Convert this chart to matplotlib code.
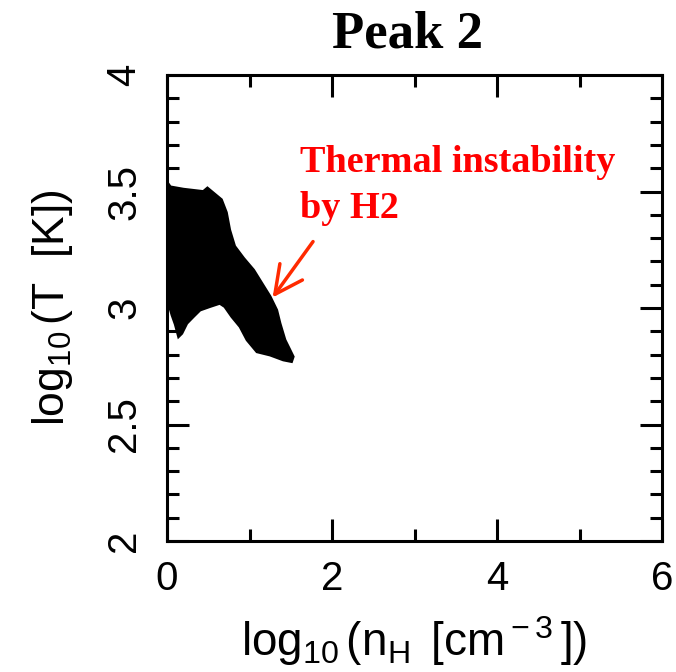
import matplotlib
matplotlib.use("Agg")
import matplotlib.pyplot as plt
from matplotlib.ticker import MultipleLocator

# ---- data (boundary of the dense point cloud) ----
cloud_upper_x = [0.00, 0.04, 0.20, 0.44, 0.49, 0.66, 0.72, 0.76, 0.82, 0.93, 1.05,
                 1.15, 1.25, 1.33, 1.37, 1.43, 1.49, 1.53]
cloud_upper_y = [3.54, 3.52, 3.51, 3.50, 3.515, 3.465, 3.41, 3.335, 3.265, 3.213, 3.163,
                 3.106, 3.049, 2.991, 2.934, 2.863, 2.820, 2.791]
cloud_lower_x = [1.51, 1.41, 1.25, 1.09, 0.97, 0.885, 0.785, 0.70, 0.64, 0.52,
                 0.40, 0.32, 0.24, 0.18, 0.14, 0.10, 0.06, 0.02, 0.00]
cloud_lower_y = [2.770, 2.777, 2.798, 2.812, 2.863, 2.920, 2.963, 3.006, 3.020, 3.006,
                 2.991, 2.963, 2.934, 2.891, 2.877, 2.93, 2.97, 3.02, 3.04]

x_ticks = [0, 2, 4, 6]
y_ticks = [2, 2.5, 3, 3.5, 4]
x_tick_labels = ["0", "2", "4", "6"]
y_tick_labels = ["2", "2.5", "3", "3.5", "4"]

title = "Peak 2"
note_lines = ["Thermal instability", "by H2"]
note_x = 1.61
note_baselines = [3.584, 3.386]
arrow_tail = (1.77, 3.285)
arrow_tip = (1.28, 3.045)

plt.rcParams['font.family'] = ['Liberation Sans', 'DejaVu Sans']
plt.rcParams['mathtext.fontset'] = 'custom'
plt.rcParams['mathtext.rm'] = 'Liberation Sans'
plt.rcParams['mathtext.it'] = 'Liberation Sans:italic'

fig = plt.figure(figsize=(6.76, 6.72), dpi=100)
ax = fig.add_axes([167/676, 1-541/672, 495/676, 466/672])

poly_x = cloud_upper_x + cloud_lower_x
poly_y = cloud_upper_y + cloud_lower_y
ax.fill(poly_x, poly_y, color='black', lw=2, ec='black', zorder=2)

ax.set_xlim(0, 6)
ax.set_ylim(2, 4)
ax.set_xticks(x_ticks)
ax.set_xticklabels(x_tick_labels)
ax.set_yticks(y_ticks)
ax.set_yticklabels(y_tick_labels, rotation=90, va='center')
ax.xaxis.set_minor_locator(MultipleLocator(1))
ax.yaxis.set_minor_locator(MultipleLocator(0.1))
ax.tick_params(which='both', direction='in', top=True, right=True, width=2.2,
               color='black')
ax.tick_params(which='major', length=16, labelsize=29)
ax.tick_params(which='minor', length=8.5)
ax.tick_params(axis='x', which='major', pad=14)
ax.tick_params(axis='y', which='major', pad=17)
for s in ax.spines.values():
    s.set_linewidth(2.2)

ax.set_xlabel(r"log$_{\rm 10}$$\,$(n$_{\rm H}$ $\,$[cm$^{\rm -3}$$\,$])",
              fontsize=33, labelpad=11)
ax.set_ylabel(r"log$_{\rm 10}$$\,$(T  [K])", fontsize=32, labelpad=22)

fig.text(408/676, 1-47/672, title, fontsize=38, fontweight='bold',
         family='Liberation Serif', ha='center', va='baseline')

for line, yb in zip(note_lines, note_baselines):
    ax.text(note_x, yb, line, color='#ff0000', fontsize=27.5,
            fontweight='bold', family='Liberation Serif', ha='left',
            va='baseline', zorder=5)
ax.annotate('', xy=arrow_tip, xytext=arrow_tail,
            arrowprops=dict(arrowstyle='->,head_length=1.0,head_width=0.5',
                            color='#ff2a00', lw=2.5, mutation_scale=20,
                            shrinkA=0, shrinkB=0), zorder=5)

fig.savefig("out.png", dpi=100)
